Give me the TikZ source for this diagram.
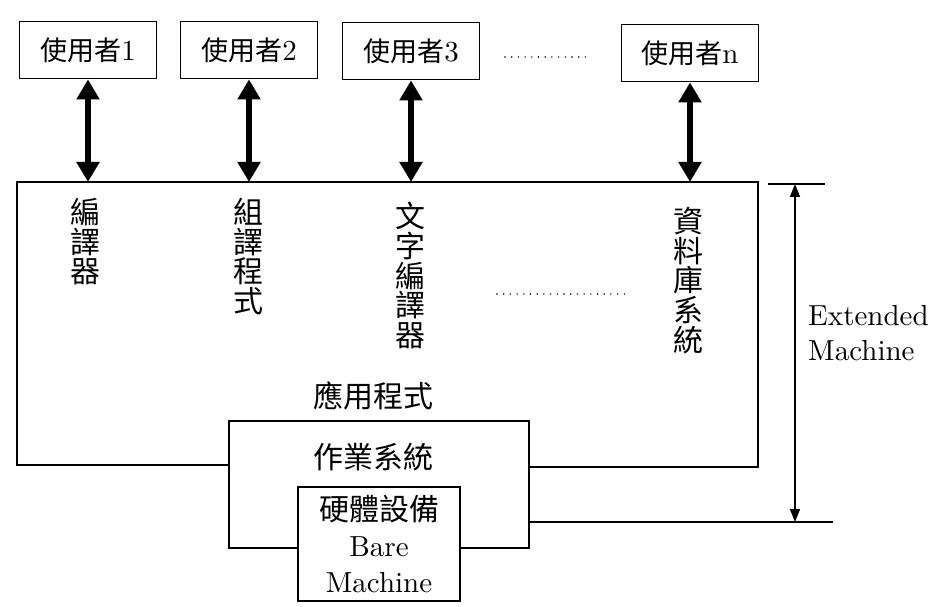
\documentclass[tikz,border=0pt]{standalone}
\usepackage{fontspec}
\setmainfont{lmroman10-regular.otf}
\newfontfamily\cjk{Noto Sans CJK TC}
\usetikzlibrary{arrows.meta}
\tikzset{
  box/.style={draw, line width=1.8bp, inner sep=0pt},
  userbox/.style={box, minimum width=137bp, minimum height=57bp, font=\fontsize{29bp}{30bp}\selectfont},
  vlabel/.style={anchor=north, inner sep=0pt, align=center, font=\cjk\fontsize{30bp}{29.7bp}\selectfont},
  cjklabel/.style={inner sep=0pt, font=\cjk\fontsize{30bp}{30bp}\selectfont},
  dbl/.style={{Triangle[width=22bp,length=20bp]}-{Triangle[width=22bp,length=20bp]}, line width=6bp},
  dim/.style={{Triangle[width=10bp,length=13bp]}-{Triangle[width=10bp,length=13bp]}, line width=1.6bp},
  dots/.style={line width=1.6bp, dash pattern=on 0pt off 6.7bp, line cap=round},
  thin/.style={line width=1.8bp}
}
\begin{document}
\begin{tikzpicture}[x=1bp,y=-1bp]
\useasboundingbox (0,0) rectangle (944,607);
% users
\node[userbox] (u1) at (88,50) {{\cjk\fontsize{27bp}{30bp}\selectfont 使用者}1};
\node[userbox] (u2) at (249,50) {{\cjk\fontsize{27bp}{30bp}\selectfont 使用者}2};
\node[userbox] (u3) at (411,51) {{\cjk\fontsize{27bp}{30bp}\selectfont 使用者}3};
\node[userbox] (un) at (690,53) {{\cjk\fontsize{27bp}{30bp}\selectfont 使用者}n};
\coordinate (d1) at (505,57);
\coordinate (d2) at (592,57);
\draw[dots] (d1) -- (d2);
% application region
\coordinate (appTL) at (17,182);
\coordinate (appBR) at (758,467);
% OS box and hardware
\node[box, minimum width=300bp, minimum height=127bp] (os) at (379,484.5) {};
\node[box, fill=white, minimum width=162bp, minimum height=114bp, align=center,
      font=\fontsize{29bp}{36bp}\selectfont] (hw) at (379,544)
      {{\cjk\fontsize{30bp}{36bp}\selectfont 硬體設備}\\Bare\\Machine};
\draw[thin] (os.west |- 0,465) -- (appTL |- 0,465) -- (appTL) -- (appTL -| appBR) -- (appBR) -- (os.east |- appBR);
% arrows
\draw[dbl] (u1) -- (u1 |- appTL);
\draw[dbl] (u2) -- (u2 |- appTL);
\draw[dbl] (u3) -- (u3 |- appTL);
\draw[dbl] (un) -- (un |- appTL);
% vertical labels
\node[vlabel] (l1) at (85,198) {編\\譯\\器};
\node[vlabel] (l2) at (248,198) {組\\譯\\程\\式};
\node[vlabel] (l3) at (410,202) {文\\字\\編\\譯\\器};
\node[vlabel] (l4) at (688,207) {資\\料\\庫\\系\\統};
\coordinate (d3) at (497,294);
\coordinate (d4) at (630,294);
\draw[dots] (d3) -- (d4);
\node[cjklabel] (app) at (373,396) {應用程式};
\node[cjklabel] (ostext) at (373,457) {作業系統};
% extended machine dimension
\coordinate (emTop) at (795,184);
\coordinate (emBot) at (795,522);
\draw[thin] (768,184) -- (825,184);
\draw[thin] (os.east |- emBot) -- (833,522);
\draw[dim] (emTop) -- (emBot);
\node[anchor=west, align=left, inner sep=0pt, font=\fontsize{29bp}{35bp}\selectfont] (em) at (808,333) {Extended\\Machine};
\end{tikzpicture}
\end{document}
